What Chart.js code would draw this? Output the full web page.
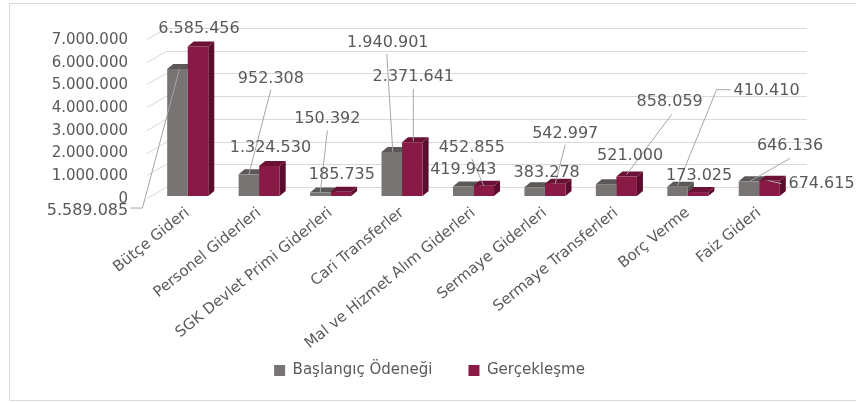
<!DOCTYPE html>
<html>
<head>
<meta charset="utf-8">
<script src="https://cdn.jsdelivr.net/npm/chart.js@4.4.1/dist/chart.umd.min.js"></script>
<style>
html,body{margin:0;padding:0;background:#fff;}
canvas{display:block;}
</style>
</head>
<body>
<canvas id="c" width="856" height="403"></canvas>
<script>
// ---- data ----
const categories = ["Bütçe Gideri","Personel Giderleri","SGK Devlet Primi Giderleri","Cari Transferler","Mal ve Hizmet Alım Giderleri","Sermaye Giderleri","Sermaye Transferleri","Borç Verme","Faiz Gideri"];
const baslangicOdenegi = [5589085, 952308, 150392, 1940901, 419943, 383278, 521000, 410410, 646136];
const gerceklesme = [6585456, 1324530, 185735, 2371641, 452855, 542997, 858059, 173025, 674615];
const seriesNames = ["Başlangıç Ödeneği", "Gerçekleşme"];
const yTickValues = [0, 1000000, 2000000, 3000000, 4000000, 5000000, 6000000, 7000000];

// ---- label placement (offsets relative to each bar top, px) ----
const labelPlacement = [
  [ {dx:-90, dy:142, leader:[[-47,139],[-35,139],[2,0]]},
    {dx:22, dy:-96, leader:[[22,-85],[0,0]]},
    {dx:7, dy:-74, leader:[[7,-62],[0,0]]},
    {dx:-4, dy:-109, leader:[[-5,-98],[1,0]]},
    {dx:0, dy:-17},
    {dx:12, dy:-14},
    {dx:24, dy:-28},
    {dx:89, dy:-96, leader:[[53,-97],[39,-97],[0,-1]]},
    {dx:41, dy:-35, leader:[[41,-23],[1,0]]} ],
  [ {dx:1, dy:-18},
    {dx:1, dy:-18},
    {dx:1, dy:-17},
    {dx:1, dy:-65, leader:[[1,-53],[1,-1]]},
    {dx:-12, dy:-38, leader:[[-12,-27],[0,0]]},
    {dx:10, dy:-50, leader:[[10,-39],[0,0]]},
    {dx:43, dy:-75, leader:[[45,-62],[0,-2]]},
    {dx:1, dy:-16},
    {dx:52, dy:3, leader:[[12,3],[-1,0]]} ]
];

const FONT = 'DejaVu Sans';
const TEXT = '#595959';
const frontColors = ['#787473', '#891a46'];
const topColors = ['#5b5857', '#6a1135'];
const sideColors = ['#555251', '#5a0d2c'];
const DEPTH_X = 6, DEPTH_Y = 5;

function fmt(v){ return String(v).replace(/\B(?=(\d{3})+(?!\d))/g, '.'); }
function noLabelClip(s){ s._computeLabelArea = function(){ return undefined; }; }

Chart.defaults.font.family = FONT;
Chart.defaults.font.size = 15;
Chart.defaults.color = TEXT;

const framePlugin = {
  id: 'frame',
  beforeDraw(chart){
    const ctx = chart.ctx;
    ctx.save();
    ctx.fillStyle = '#fff';
    ctx.fillRect(0,0,chart.width,chart.height);
    ctx.strokeStyle = '#d9d9d9';
    ctx.lineWidth = 1;
    ctx.beginPath();
    ctx.moveTo(chart.width, 3.5);
    ctx.lineTo(9.5, 3.5);
    ctx.lineTo(9.5, 400.5);
    ctx.lineTo(chart.width, 400.5);
    ctx.stroke();
    ctx.restore();
  }
};

const wallPlugin = {
  id: 'wall3d',
  beforeDatasetsDraw(chart){
    const ctx = chart.ctx;
    const y = chart.scales.y;
    const a = chart.chartArea;
    ctx.save();
    ctx.strokeStyle = '#d9d9d9';
    ctx.lineWidth = 1;
    yTickValues.forEach(v => {
      const py = Math.round(y.getPixelForValue(v)) + 0.5;
      ctx.beginPath();
      ctx.moveTo(a.left - 5, py + 2);
      ctx.lineTo(a.left + 14, py - 9);
      ctx.lineTo(a.right + 12, py - 9);
      ctx.stroke();
    });
    chart.data.datasets.forEach((ds, di) => {
      const meta = chart.getDatasetMeta(di);
      meta.data.forEach(bar => {
        const {x, y: top, base, width} = bar.getProps(['x','y','base','width'], true);
        const l = x - width/2, r = x + width/2;
        ctx.fillStyle = sideColors[di];
        ctx.beginPath();
        ctx.moveTo(r, top); ctx.lineTo(r + DEPTH_X, top - DEPTH_Y);
        ctx.lineTo(r + DEPTH_X, base - DEPTH_Y); ctx.lineTo(r, base);
        ctx.closePath(); ctx.fill();
        ctx.fillStyle = topColors[di];
        ctx.beginPath();
        ctx.moveTo(l, top); ctx.lineTo(l + DEPTH_X, top - DEPTH_Y);
        ctx.lineTo(r + DEPTH_X, top - DEPTH_Y); ctx.lineTo(r, top);
        ctx.closePath(); ctx.fill();
      });
    });
    ctx.restore();
  }
};

const labelPlugin = {
  id: 'valueLabels',
  afterDatasetsDraw(chart){
    const ctx = chart.ctx;
    ctx.save();
    ctx.font = '16px "' + FONT + '"';
    ctx.fillStyle = TEXT;
    ctx.textAlign = 'center';
    ctx.textBaseline = 'middle';
    chart.data.datasets.forEach((ds, di) => {
      const meta = chart.getDatasetMeta(di);
      meta.data.forEach((bar, i) => {
        const {x, y: top} = bar.getProps(['x','y'], true);
        const p = labelPlacement[di][i];
        if (p.leader){
          ctx.strokeStyle = '#a6a6a6';
          ctx.lineWidth = 1;
          ctx.beginPath();
          p.leader.forEach((pt, k) => {
            const px = x + pt[0], py = top + pt[1];
            if (k === 0) ctx.moveTo(px, py); else ctx.lineTo(px, py);
          });
          ctx.stroke();
        }
      });
    });
    chart.data.datasets.forEach((ds, di) => {
      const meta = chart.getDatasetMeta(di);
      meta.data.forEach((bar, i) => {
        const {x, y: top} = bar.getProps(['x','y'], true);
        const p = labelPlacement[di][i];
        ctx.fillText(fmt(ds.data[i]), x + p.dx, top + p.dy);
      });
    });
    ctx.restore();
  }
};

new Chart(document.getElementById('c'), {
  type: 'bar',
  data: {
    labels: categories,
    datasets: [
      { label: seriesNames[0], data: baslangicOdenegi, backgroundColor: frontColors[0], borderWidth: 0,
        categoryPercentage: 0.575, barPercentage: 1 },
      { label: seriesNames[1], data: gerceklesme, backgroundColor: frontColors[1], borderWidth: 0,
        categoryPercentage: 0.575, barPercentage: 1 }
    ]
  },
  options: {
    responsive: false,
    animation: false,
    devicePixelRatio: 1,
    layout: { padding: { left: 64, right: 61, top: 37, bottom: 15 } },
    plugins: {
      tooltip: { enabled: false },
      legend: {
        position: 'bottom',
        labels: { boxWidth: 11, boxHeight: 11, padding: 36, color: TEXT, font: { size: 15, family: FONT } }
      }
    },
    scales: {
      x: {
        grid: { display: false, drawTicks: false },
        border: { display: false },
        ticks: { minRotation: 39, maxRotation: 39, padding: 8, color: TEXT, font: { size: 15, family: FONT }, autoSkip: false },
        afterFit(s){ s.height = 131; noLabelClip(s); }
      },
      y: {
        min: 0, max: 7000000,
        grid: { display: false, drawTicks: false },
        border: { display: false },
        afterBuildTicks(s){ s.ticks = yTickValues.map(v => ({value: v})); },
        ticks: { padding: 24, labelOffset: 3, color: TEXT, font: { size: 15, family: FONT }, callback: v => fmt(v) },
        afterFit(s){ s.width = 88; noLabelClip(s); }
      }
    }
  },
  plugins: [framePlugin, wallPlugin, labelPlugin]
});
</script>
</body>
</html>
